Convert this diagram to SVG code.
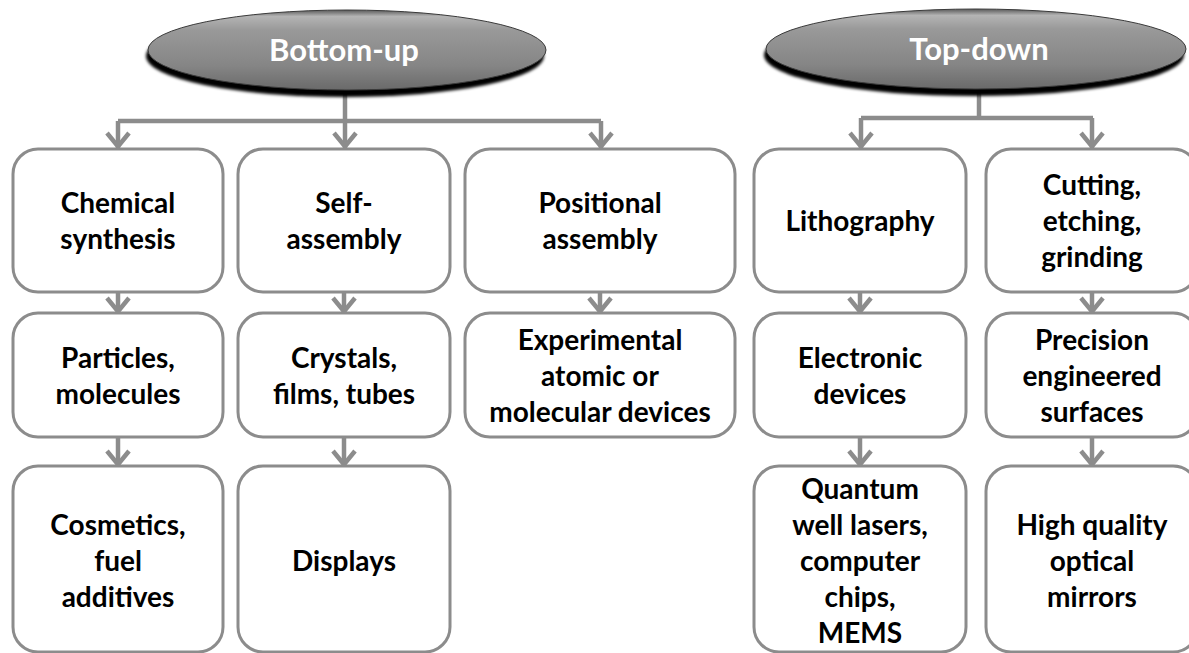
<svg xmlns="http://www.w3.org/2000/svg" width="1189" height="653" viewBox="0 0 1189 653">
<style>
.box{fill:#fff;stroke:#8c8c8c;stroke-width:3}
.t{font-family:Lato,"Open Sans","Liberation Sans",sans-serif;font-weight:700;font-size:28px;fill:#000;text-anchor:middle}
.h{font-family:Lato,"Open Sans","Liberation Sans",sans-serif;font-weight:700;font-size:31px;fill:#fff;text-anchor:middle}
.c{fill:none;stroke:#8c8c8c;stroke-width:4.5}
.a{marker-end:url(#arr)}
</style>
<defs>
<linearGradient id="eg" x1="0" y1="0" x2="0" y2="1">
<stop offset="0" stop-color="#5a5a5a"/>
<stop offset="0.08" stop-color="#b4b4b4"/>
<stop offset="0.25" stop-color="#999"/>
<stop offset="0.7" stop-color="#858585"/>
<stop offset="1" stop-color="#6a6a6a"/>
</linearGradient>
<filter id="blur" x="-10%" y="-30%" width="120%" height="160%"><feGaussianBlur stdDeviation="1.5"/></filter>
<marker id="arr" markerUnits="userSpaceOnUse" markerWidth="34" markerHeight="34" viewBox="-22 -17 34 34" refX="0" refY="0" orient="auto">
<path d="M-15 -11 L-1.5 0 L-15 11" fill="none" stroke="#8c8c8c" stroke-width="4.5"/>
</marker>
</defs>

<g id="connectors">
<path class="c" d="M118 121 H601"/>
<path class="c a" d="M345 92 V148"/>
<path class="c a" d="M118 121 V148"/>
<path class="c a" d="M601 121 V148"/>
<path class="c" d="M979 92 V118"/>
<path class="c" d="M861 118 H1093"/>
<path class="c a" d="M861 118 V148"/>
<path class="c a" d="M1092 118 V148"/>
<path class="c a" d="M118 292 V313"/>
<path class="c a" d="M344 292 V313"/>
<path class="c a" d="M600 292 V313"/>
<path class="c a" d="M860 292 V313"/>
<path class="c a" d="M1092 292 V313"/>
<path class="c a" d="M118 437 V466"/>
<path class="c a" d="M344 437 V466"/>
<path class="c a" d="M860 437 V466"/>
<path class="c a" d="M1092 437 V466"/>
</g>

<g id="bottom-up">
<ellipse cx="345" cy="56" rx="199" ry="41" fill="#000" filter="url(#blur)"/>
<ellipse cx="347" cy="50" rx="199" ry="40" fill="url(#eg)" stroke="#3a3a3a" stroke-width="1"/>
<text class="h" x="344" y="61">Bottom-up</text>
</g>
<g id="top-down">
<ellipse cx="974" cy="55" rx="210" ry="41" fill="#000" filter="url(#blur)"/>
<ellipse cx="976" cy="49" rx="210" ry="40" fill="url(#eg)" stroke="#3a3a3a" stroke-width="1"/>
<text class="h" x="979" y="60">Top-down</text>
</g>

<g id="chemical-synthesis">
<rect class="box" x="13" y="149" width="210" height="143" rx="25"/>
<text class="t" x="118" y="213">Chemical</text>
<text class="t" x="118" y="249">synthesis</text>
</g>
<g id="self-assembly">
<rect class="box" x="238" y="149" width="212" height="143" rx="25"/>
<text class="t" x="344" y="213">Self-</text>
<text class="t" x="344" y="249">assembly</text>
</g>
<g id="positional-assembly">
<rect class="box" x="465" y="149" width="270" height="143" rx="25"/>
<text class="t" x="600" y="213">Positional</text>
<text class="t" x="600" y="249">assembly</text>
</g>
<g id="lithography">
<rect class="box" x="754" y="149" width="212" height="143" rx="25"/>
<text class="t" x="860" y="231">Lithography</text>
</g>
<g id="cutting">
<rect class="box" x="986" y="149" width="212" height="143" rx="25"/>
<text class="t" x="1092" y="195">Cutting,</text>
<text class="t" x="1092" y="231">etching,</text>
<text class="t" x="1092" y="267">grinding</text>
</g>

<g id="particles">
<rect class="box" x="13" y="313" width="210" height="124" rx="25"/>
<text class="t" x="118" y="368">Particles,</text>
<text class="t" x="118" y="404">molecules</text>
</g>
<g id="crystals">
<rect class="box" x="238" y="313" width="212" height="124" rx="25"/>
<text class="t" x="344" y="368">Crystals,</text>
<text class="t" x="344" y="404">films, tubes</text>
</g>
<g id="experimental">
<rect class="box" x="465" y="313" width="270" height="124" rx="25"/>
<text class="t" x="600" y="350">Experimental</text>
<text class="t" x="600" y="386">atomic or</text>
<text class="t" x="600" y="422">molecular devices</text>
</g>
<g id="electronic-devices">
<rect class="box" x="754" y="313" width="212" height="124" rx="25"/>
<text class="t" x="860" y="368">Electronic</text>
<text class="t" x="860" y="404">devices</text>
</g>
<g id="precision">
<rect class="box" x="986" y="313" width="212" height="124" rx="25"/>
<text class="t" x="1092" y="350">Precision</text>
<text class="t" x="1092" y="386">engineered</text>
<text class="t" x="1092" y="422">surfaces</text>
</g>

<g id="cosmetics">
<rect class="box" x="13" y="466" width="210" height="186" rx="25"/>
<text class="t" x="118" y="535">Cosmetics,</text>
<text class="t" x="118" y="571">fuel</text>
<text class="t" x="118" y="607">additives</text>
</g>
<g id="displays">
<rect class="box" x="238" y="466" width="212" height="186" rx="25"/>
<text class="t" x="344" y="571">Displays</text>
</g>
<g id="quantum">
<rect class="box" x="754" y="466" width="212" height="186" rx="25"/>
<text class="t" x="860" y="499">Quantum</text>
<text class="t" x="860" y="535">well lasers,</text>
<text class="t" x="860" y="571">computer</text>
<text class="t" x="860" y="607">chips,</text>
<text class="t" x="860" y="643">MEMS</text>
</g>
<g id="mirrors">
<rect class="box" x="986" y="466" width="212" height="186" rx="25"/>
<text class="t" x="1092" y="535">High quality</text>
<text class="t" x="1092" y="571">optical</text>
<text class="t" x="1092" y="607">mirrors</text>
</g>
</svg>
